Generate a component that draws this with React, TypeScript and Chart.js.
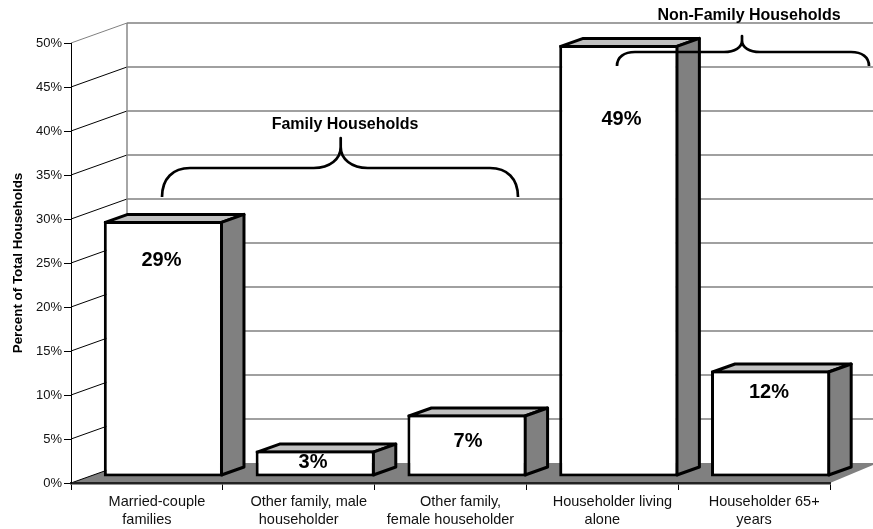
import React, { useEffect, useRef } from "react";
import { Chart, registerables } from "chart.js";

Chart.register(...registerables);

const categories: string[][] = [
  ["Married-couple", "families"],
  ["Other family, male", "householder"],
  ["Other family,", "female householder"],
  ["Householder living", "alone"],
  ["Householder 65+", "years"],
];
const shares: number[] = [29.1, 3, 7.1, 49.1, 12.1];
const shareLabels: string[] = ["29%", "3%", "7%", "49%", "12%"];
const yTicks: number[] = [0, 5, 10, 15, 20, 25, 30, 35, 40, 45, 50];
const groupTitles: string[] = ["Family Households", "Non-Family Households"];

const FONT = '"Liberation Sans", Arial, sans-serif';
const WALL_DX = 56;
const WALL_DY = 20;
const FLOOR_RIGHT_DX = 48;
const BAR_DX = 16.5;
const BAR_DY = 6;
const SIDE_DX = 22.5;
const SIDE_DY = 8;
const EDGE = 3;
const GREY = "#808080";
const LIGHT = "#c0c0c0";
// first line of each axis label sits off-centre in the reference
const FIRST_LINE_INDENT = "     ";

// label centres (px) for the value captions
const labelAnchors = [
  [161.5, 260],
  [313, 462],
  [468, 441],
  [621.5, 119],
  [769, 392],
];

function brace(ctx: CanvasRenderingContext2D, x0: number, x1: number, xm: number, yEnd: number, yBar: number, yTip: number, r: number, rm: number) {
  const h = yBar - yTip;
  ctx.beginPath();
  ctx.moveTo(x0, yEnd);
  ctx.bezierCurveTo(x0, yBar + (yEnd - yBar) * 0.35, x0 + r * 0.4, yBar, x0 + r, yBar);
  ctx.lineTo(xm - rm, yBar);
  ctx.bezierCurveTo(xm - rm * 0.4, yBar, xm, yBar - h * 0.3, xm, yBar - h * 0.7);
  ctx.lineTo(xm, yTip);
  ctx.lineTo(xm, yBar - h * 0.7);
  ctx.bezierCurveTo(xm, yBar - h * 0.3, xm + rm * 0.4, yBar, xm + rm, yBar);
  ctx.lineTo(x1 - r, yBar);
  ctx.bezierCurveTo(x1 - r * 0.4, yBar, x1, yBar + (yEnd - yBar) * 0.35, x1, yEnd);
  ctx.lineWidth = 2.7;
  ctx.lineJoin = "round";
  ctx.strokeStyle = "#000";
  ctx.stroke();
}

const box3d = {
  id: "box3d",
  beforeDraw(chart: any) {
    const { ctx, chartArea: a, scales } = chart;
    const y = scales.y;
    ctx.save();
    // floor
    ctx.fillStyle = GREY;
    ctx.beginPath();
    ctx.moveTo(a.left, a.bottom);
    ctx.lineTo(a.right, a.bottom);
    ctx.lineTo(a.right + FLOOR_RIGHT_DX, a.bottom - WALL_DY);
    ctx.lineTo(a.left + WALL_DX, a.bottom - WALL_DY);
    ctx.closePath();
    ctx.fill();
    // walls
    yTicks.forEach((v) => {
      const py = y.getPixelForValue(v);
      if (v > 0) {
        ctx.strokeStyle = GREY;
        ctx.lineWidth = 1.4;
        ctx.beginPath();
        ctx.moveTo(a.left + WALL_DX, py - WALL_DY);
        ctx.lineTo(a.right + WALL_DX, py - WALL_DY);
        ctx.stroke();
      }
      ctx.strokeStyle = v === 50 ? GREY : "#000";
      ctx.lineWidth = 1;
      ctx.beginPath();
      ctx.moveTo(a.left, py);
      ctx.lineTo(a.left + WALL_DX, py - WALL_DY);
      ctx.stroke();
    });
    ctx.strokeStyle = GREY;
    ctx.lineWidth = 1.4;
    ctx.beginPath();
    ctx.moveTo(a.left + WALL_DX, a.top - WALL_DY);
    ctx.lineTo(a.left + WALL_DX, a.bottom - WALL_DY);
    ctx.stroke();
    ctx.restore();
  },
  beforeDatasetsDraw(chart: any) {
    const { ctx } = chart;
    const bars = chart.getDatasetMeta(0).data;
    ctx.save();
    ctx.translate(BAR_DX, -BAR_DY);
    ctx.lineWidth = EDGE;
    ctx.strokeStyle = "#000";
    ctx.lineJoin = "round";
    bars.forEach((b: any) => {
      const r = b.x + b.width / 2 - EDGE / 2;
      const l = b.x - b.width / 2 + EDGE / 2;
      const t = b.y + EDGE / 2;
      const bt = b.base - EDGE / 2;
      ctx.fillStyle = LIGHT;
      ctx.beginPath();
      ctx.moveTo(l, t);
      ctx.lineTo(l + SIDE_DX, t - SIDE_DY);
      ctx.lineTo(r + SIDE_DX, t - SIDE_DY);
      ctx.lineTo(r, t);
      ctx.closePath();
      ctx.fill();
      ctx.stroke();
      ctx.fillStyle = GREY;
      ctx.beginPath();
      ctx.moveTo(r, t);
      ctx.lineTo(r + SIDE_DX, t - SIDE_DY);
      ctx.lineTo(r + SIDE_DX, bt - SIDE_DY);
      ctx.lineTo(r, bt);
      ctx.closePath();
      ctx.fill();
      ctx.stroke();
    });
    // the library's own bars are drawn next, in this shifted frame
  },
  afterDatasetsDraw(chart: any) {
    const { ctx } = chart;
    ctx.restore();
    ctx.save();
    ctx.fillStyle = "#000";
    ctx.textAlign = "center";
    ctx.textBaseline = "middle";
    ctx.font = `bold 20px ${FONT}`;
    shareLabels.forEach((s, i) => ctx.fillText(s, labelAnchors[i][0], labelAnchors[i][1]));
    ctx.font = `bold 16px ${FONT}`;
    ctx.fillText(groupTitles[0], 345, 125);
    ctx.fillText(groupTitles[1], 749, 16);
    brace(ctx, 162, 518, 340.7, 197, 168, 138, 28, 27);
    brace(ctx, 617, 869, 742, 66, 52, 36, 18, 18);
    ctx.restore();
  },
};

export default function App() {
  const ref = useRef<HTMLCanvasElement>(null);
  useEffect(() => {
    if (!ref.current) return;
    const chart = new Chart(ref.current, {
      type: "bar",
      data: {
        labels: categories,
        datasets: [
          {
            data: shares,
            backgroundColor: "#fff",
            borderColor: "#000",
            borderWidth: EDGE,
            borderSkipped: false,
            barPercentage: 1,
            categoryPercentage: 0.785,
          },
        ],
      },
      options: {
        responsive: false,
        animation: false,
        layout: { padding: { top: 43, right: 43, left: 0, bottom: 0 } },
        plugins: { legend: { display: false }, tooltip: { enabled: false } },
        scales: {
          x: {
            afterFit: (s: any) => { s.height = 46; },
            grid: { offset: true, drawOnChartArea: false, tickLength: 7, color: "#000" },
            border: { color: "#222", width: 2.5 },
            ticks: {
              autoSkip: false,
              maxRotation: 0,
              padding: 3,
              color: "#111",
              callback: (_v: any, i: number) => [FIRST_LINE_INDENT + categories[i][0], categories[i][1]],
              font: { family: FONT, size: 14.5, lineHeight: 1.24 },
            },
          },
          y: {
            min: 0,
            max: 50,
            afterFit: (s: any) => { s.width = 71; },
            afterBuildTicks: (s: any) => { s.ticks = yTicks.map((value) => ({ value })); },
            grid: { drawOnChartArea: false, tickLength: 7, color: "#000" },
            border: { color: "#000", width: 1 },
            title: {
              display: true,
              text: "Percent of Total Households",
              color: "#000",
              padding: { top: 10, bottom: 0 },
              font: { family: FONT, size: 13.4, weight: "bold" },
            },
            ticks: {
              padding: 2,
              color: "#111",
              callback: (v: any) => `${v}%`,
              font: { family: FONT, size: 13 },
            },
          },
        },
      },
      plugins: [box3d],
    } as any);
    return () => chart.destroy();
  }, []);
  return (
    <canvas
      ref={ref}
      width={873}
      height={529}
      style={{ position: "absolute", left: 0, top: 0, background: "#fff" }}
    />
  );
}
